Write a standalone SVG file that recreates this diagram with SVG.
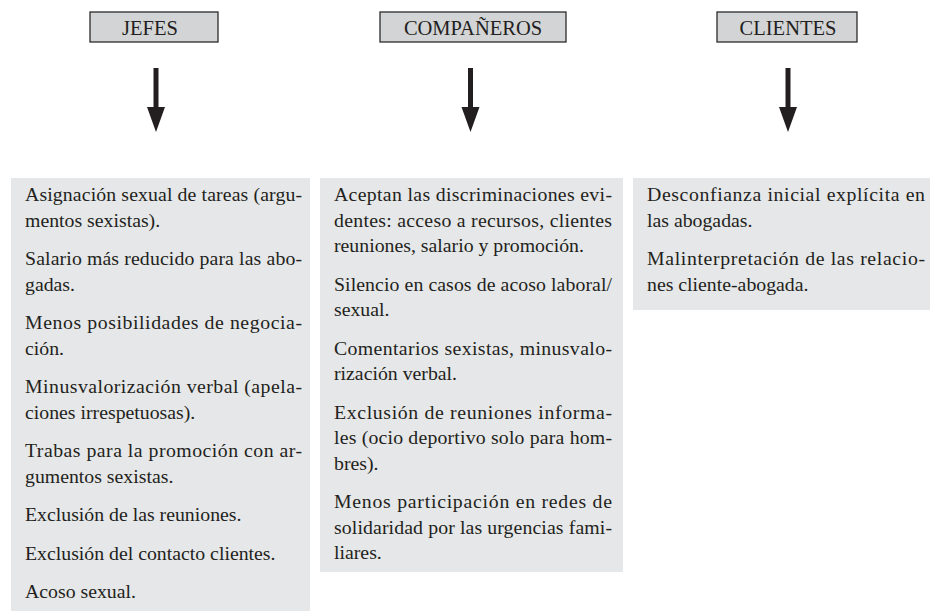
<svg xmlns="http://www.w3.org/2000/svg" width="930" height="611" viewBox="0 0 930 611">
<style>
  .hdr rect { fill: #d3d4d6; stroke: #2b2b2b; stroke-width: 1.3; }
  .hdr text { font-family: "Liberation Serif", "Times New Roman", serif; font-size: 20.5px; fill: #231f20; text-anchor: middle; }
  .box rect { fill: #e6e7e8; stroke: none; }
  .box text { font-family: "Liberation Serif", "Times New Roman", serif; font-size: 19.8px; fill: #231f20; }
  .arr { fill: #231f20; }
</style>
<rect width="930" height="611" fill="#ffffff"/>
<defs>
  <path id="arrow" d="M-2.5,0 H2.5 V39 H9 L0,64 L-9,39 H-2.5 Z"/>
</defs>

<g id="hdr-jefes" class="hdr">
  <rect x="90" y="12" width="128" height="30"/>
  <text x="150" y="34.5">JEFES</text>
</g>
<g id="hdr-companeros" class="hdr">
  <rect x="380" y="12" width="186" height="30"/>
  <text x="473" y="34.5">COMPAÑEROS</text>
</g>
<g id="hdr-clientes" class="hdr">
  <rect x="717" y="12" width="140" height="30"/>
  <text x="788" y="34.5">CLIENTES</text>
</g>

<g id="connectors" class="arr">
  <use href="#arrow" x="156" y="68"/>
  <use href="#arrow" x="470.5" y="68"/>
  <use href="#arrow" x="788" y="68"/>
</g>

<g id="box-jefes" class="box">
  <rect x="11" y="178" width="299" height="433"/>
  <text x="25" y="201" textLength="277" lengthAdjust="spacing">Asignación sexual de tareas (argu-</text>
  <text x="25" y="226.5">mentos sexistas).</text>
  <text x="25" y="265" textLength="277" lengthAdjust="spacing">Salario más reducido para las abo-</text>
  <text x="25" y="290.5">gadas.</text>
  <text x="25" y="329" textLength="277" lengthAdjust="spacing">Menos posibilidades de negocia-</text>
  <text x="25" y="354.5">ción.</text>
  <text x="25" y="393" textLength="277" lengthAdjust="spacing">Minusvalorización verbal (apela-</text>
  <text x="25" y="418.5">ciones irrespetuosas).</text>
  <text x="25" y="457" textLength="277" lengthAdjust="spacing">Trabas para la promoción con ar-</text>
  <text x="25" y="482.5">gumentos sexistas.</text>
  <text x="25" y="521">Exclusión de las reuniones.</text>
  <text x="25" y="559.5">Exclusión del contacto clientes.</text>
  <text x="25" y="598">Acoso sexual.</text>
</g>

<g id="box-companeros" class="box">
  <rect x="320" y="178" width="303" height="394"/>
  <text x="334" y="201" textLength="278" lengthAdjust="spacing">Aceptan las discriminaciones evi-</text>
  <text x="334" y="226.5" textLength="278" lengthAdjust="spacing">dentes: acceso a recursos, clientes</text>
  <text x="334" y="252">reuniones, salario y promoción.</text>
  <text x="334" y="290.5" textLength="278" lengthAdjust="spacing">Silencio en casos de acoso laboral/</text>
  <text x="334" y="316">sexual.</text>
  <text x="334" y="354.5" textLength="278" lengthAdjust="spacing">Comentarios sexistas, minusvalo-</text>
  <text x="334" y="380">rización verbal.</text>
  <text x="334" y="418.5" textLength="278" lengthAdjust="spacing">Exclusión de reuniones informa-</text>
  <text x="334" y="444" textLength="278" lengthAdjust="spacing">les (ocio deportivo solo para hom-</text>
  <text x="334" y="469.5">bres).</text>
  <text x="334" y="508" textLength="278" lengthAdjust="spacing">Menos participación en redes de</text>
  <text x="334" y="533.5" textLength="278" lengthAdjust="spacing">solidaridad por las urgencias fami-</text>
  <text x="334" y="559">liares.</text>
</g>

<g id="box-clientes" class="box">
  <rect x="633" y="178" width="297" height="132"/>
  <text x="647" y="201" textLength="278" lengthAdjust="spacing">Desconfianza inicial explícita en</text>
  <text x="647" y="226.5">las abogadas.</text>
  <text x="647" y="265" textLength="278" lengthAdjust="spacing">Malinterpretación de las relacio-</text>
  <text x="647" y="290.5">nes cliente-abogada.</text>
</g>
</svg>
